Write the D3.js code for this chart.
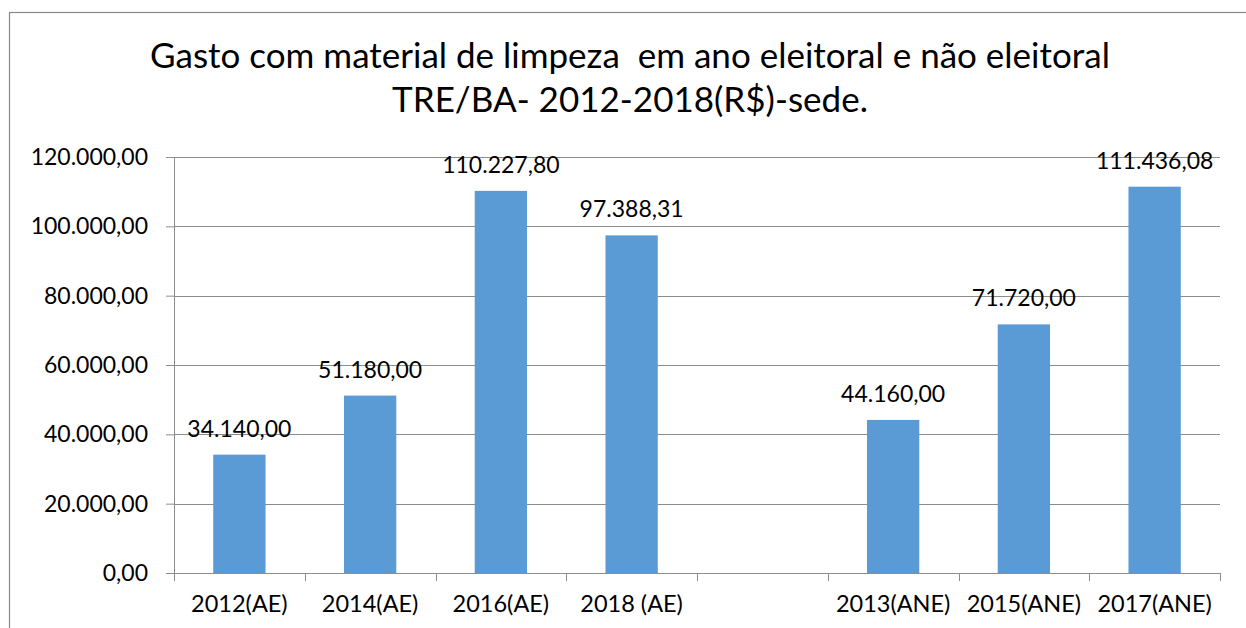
<!DOCTYPE html>
<html>
<head>
<meta charset="utf-8">
<script src="https://cdn.jsdelivr.net/npm/d3@7"></script>
<style>
  body { margin: 0; background: #fff; }
  svg { font-family: Lato, "Open Sans", sans-serif; }
</style>
</head>
<body>
<svg width="1246" height="628"></svg>
<script>
/* categories and values; the empty slot keeps the gap */
var categories = ["2012(AE)", "2014(AE)", "2016(AE)", "2018 (AE)", "", "2013(ANE)", "2015(ANE)", "2017(ANE)"];
var values = [34140.00, 51180.00, 110227.80, 97388.31, null, 44160.00, 71720.00, 111436.08];
var yTicks = [0, 20000, 40000, 60000, 80000, 100000, 120000];
var titleLines = ["Gasto com material de limpeza  em ano eleitoral e não eleitoral", "TRE/BA- 2012-2018(R$)-sede."];

var svg = d3.select("svg"),
    margin = {top: 157, right: 26, bottom: 55, left: 174},
    width = +svg.attr("width") - margin.left - margin.right,
    height = +svg.attr("height") - margin.top - margin.bottom;

/* chart frame, cut off on the right and bottom like the picture */
svg.append("rect")
    .attr("x", 9.5).attr("y", 12.5)
    .attr("width", 1300).attr("height", 700)
    .attr("fill", "none").attr("stroke", "#888").attr("stroke-width", 1.2);

svg.selectAll(".title")
    .data(titleLines)
  .enter().append("text")
    .attr("x", 630)
    .attr("y", function(d, i) { return 68 + i * 44; })
    .attr("text-anchor", "middle")
    .attr("font-size", 35)
    .attr("fill", "#000")
    .style("white-space", "pre")
    .text(function(d) { return d; });

var g = svg.append("g").attr("transform", "translate(" + margin.left + "," + margin.top + ")");

var x = d3.scaleBand()
    .domain(d3.range(categories.length))
    .range([0, width])
    .paddingInner(0.6)
    .paddingOuter(0.3);

var y = d3.scaleLinear()
    .domain([0, 120000])
    .range([height, 0]);

var fmt = d3.formatLocale({decimal: ",", thousands: ".", grouping: [3], currency: ["R$", ""]}).format(",.2f");

/* gridlines */
g.selectAll(".grid")
    .data(yTicks.slice(1))
  .enter().append("line")
    .attr("x1", 0).attr("x2", width)
    .attr("y1", function(d) { return Math.round(y(d)) + 0.5; })
    .attr("y2", function(d) { return Math.round(y(d)) + 0.5; })
    .attr("stroke", "#8c8c8c").attr("stroke-width", 1);

/* y axis */
var yAxis = g.append("g")
    .call(d3.axisLeft(y).tickValues(yTicks).tickFormat(fmt).tickSize(8).tickPadding(18));
yAxis.selectAll("line").attr("stroke", "#8c8c8c");
yAxis.select(".domain").attr("stroke", "#8c8c8c");
yAxis.selectAll("text").attr("font-size", 23).attr("fill", "#000").attr("font-family", "Lato, sans-serif");

/* x axis with ticks on band edges */
var edges = d3.range(categories.length + 1).map(function(i) { return i * width / categories.length; });
g.append("line")
    .attr("x1", 0).attr("x2", width)
    .attr("y1", height + 0.5).attr("y2", height + 0.5)
    .attr("stroke", "#8c8c8c");
g.selectAll(".xtick")
    .data(edges)
  .enter().append("line")
    .attr("x1", function(d) { return Math.round(d) + 0.5; })
    .attr("x2", function(d) { return Math.round(d) + 0.5; })
    .attr("y1", height).attr("y2", height + 8)
    .attr("stroke", "#8c8c8c");
g.selectAll(".xlabel")
    .data(categories)
  .enter().append("text")
    .attr("x", function(d, i) { return x(i) + x.bandwidth() / 2; })
    .attr("y", height + 39)
    .attr("text-anchor", "middle")
    .attr("font-size", 23.5)
    .attr("fill", "#000")
    .text(function(d) { return d; });

/* bars */
var data = values.map(function(v, i) { return {i: i, v: v}; }).filter(function(d) { return d.v !== null; });

g.selectAll(".bar")
    .data(data)
  .enter().append("rect")
    .attr("x", function(d) { return x(d.i); })
    .attr("y", function(d) { return y(d.v); })
    .attr("width", x.bandwidth())
    .attr("height", function(d) { return height - y(d.v); })
    .attr("fill", "#5b9bd5");

/* data labels */
g.selectAll(".label")
    .data(data)
  .enter().append("text")
    .attr("x", function(d) { return x(d.i) + x.bandwidth() / 2; })
    .attr("y", function(d) { return y(d.v) - 18; })
    .attr("text-anchor", "middle")
    .attr("font-size", 23)
    .attr("fill", "#000")
    .text(function(d) { return fmt(d.v); });
</script>
</body>
</html>
